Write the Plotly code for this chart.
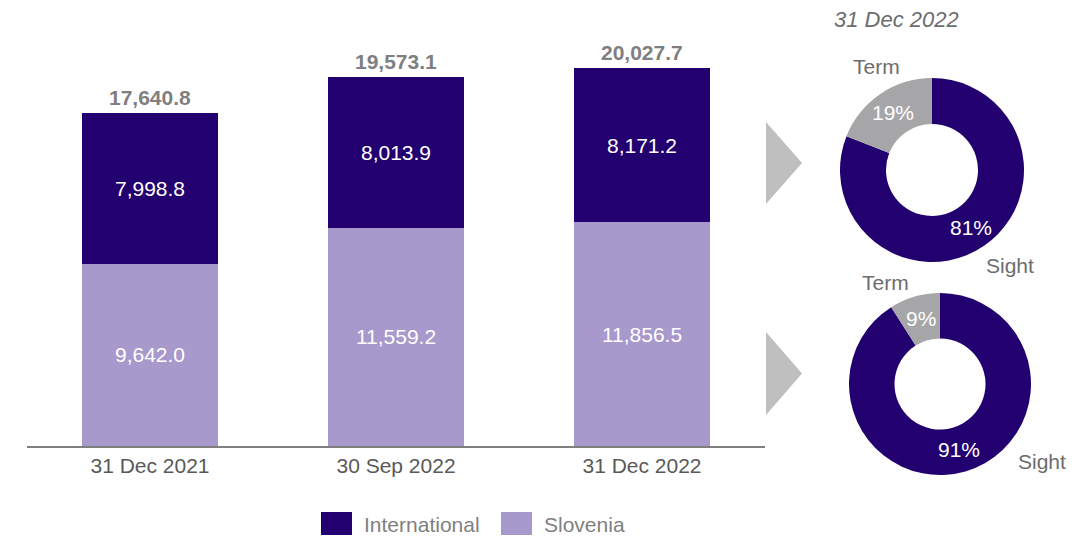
import math

import plotly.graph_objects as go

# Deposit volumes by region (EUR m)
periods = ["31 Dec 2021", "30 Sep 2022", "31 Dec 2022"]
slovenia = [9642.0, 11559.2, 11856.5]
international = [7998.8, 8013.9, 8171.2]
totals = [17640.8, 19573.1, 20027.7]

# Deposit structure at 31 Dec 2022
mix_labels = ["Sight", "Term"]
mix_top = [81, 19]
mix_bottom = [91, 9]

DARK = "#23006f"
LIGHT = "#a799cb"
GREY_SLICE = "#a6a6a8"
GREY_TEXT = "#6d6d6d"
FONT = "Liberation Sans, Arial, sans-serif"

# page body has an 8px margin, so the figure is a bit smaller than the window
OFF = 8
W, H = 1081 - OFF, 537 - OFF


def px(x):
    return (x - OFF) / W


def py(y):
    return 1 - (y - OFF) / H


fig = go.Figure()

fig.add_trace(
    go.Bar(
        x=periods,
        y=slovenia,
        name="Slovenia",
        marker={"color": LIGHT, "line": {"width": 0}},
        text=[f"{v:,.1f}" for v in slovenia],
        textposition="inside",
        insidetextanchor="middle",
        textfont={"color": "white", "size": 21, "family": FONT},
        showlegend=False,
    )
)
fig.add_trace(
    go.Bar(
        x=periods,
        y=international,
        name="International",
        marker={"color": DARK, "line": {"width": 0}},
        text=[f"{v:,.1f}" for v in international],
        textposition="inside",
        insidetextanchor="middle",
        textfont={"color": "white", "size": 21, "family": FONT},
        showlegend=False,
    )
)

annotations = []
# totals above bars
for p, t in zip(periods, totals):
    annotations.append(
        dict(
            x=p,
            y=t,
            xref="x",
            yref="y",
            text=f"<b>{t:,.1f}</b>",
            yanchor="bottom",
            yshift=2,
            showarrow=False,
            font={"color": "#7f7f7f", "size": 21, "family": FONT},
        )
    )

# donuts: (values, centre x, centre y, outer radius) in page pixels
donuts = [(mix_top, 932, 170, 92), (mix_bottom, 940, 384, 91)]
for vals, cx, cy, r in donuts:
    fig.add_trace(
        go.Pie(
            labels=mix_labels,
            values=vals,
            hole=0.5,
            sort=False,
            direction="clockwise",
            rotation=0,
            domain={"x": [px(cx - r), px(cx + r)], "y": [py(cy + r), py(cy - r)]},
            marker={"colors": [DARK, GREY_SLICE], "line": {"width": 0}},
            textinfo="none",
            showlegend=False,
            hoverinfo="label+percent",
        )
    )
    # percentage labels at the middle of each ring segment
    total = sum(vals)
    start = 0.0
    rr = r * 0.75
    for v in vals:
        ang = 2 * math.pi * (start + v / 2) / total
        start += v
        annotations.append(
            dict(
                x=px(cx + rr * math.sin(ang)),
                y=py(cy - rr * math.cos(ang)),
                xref="paper",
                yref="paper",
                text=f"{v}%",
                showarrow=False,
                xanchor="center",
                yanchor="middle",
                font={"color": "white", "size": 21, "family": FONT},
            )
        )

labels = [
    dict(x=px(896), y=py(19), text="<i>31 Dec 2022</i>", height=18, font={"size": 22, "color": GREY_TEXT}),
    dict(x=px(876), y=py(67), text="Term", font={"size": 21, "color": GREY_TEXT}),
    dict(x=px(1010), y=py(265), text="Sight", font={"size": 21, "color": GREY_TEXT}),
    dict(x=px(885), y=py(282), text="Term", font={"size": 21, "color": GREY_TEXT}),
    dict(x=px(1042), y=py(461), text="Sight", font={"size": 21, "color": GREY_TEXT}),
    # legend text
    dict(x=px(362), y=py(524), text="International", xanchor="left", font={"size": 21, "color": "#7f7f7f"}),
    dict(x=px(542), y=py(524), text="Slovenia", xanchor="left", font={"size": 21, "color": "#7f7f7f"}),
]
for a in labels:
    a.setdefault("xanchor", "center")
    a.update(xref="paper", yref="paper", yanchor="middle", showarrow=False)
    a["font"]["family"] = FONT
annotations += labels

shapes = []
# arrows pointing to the donuts
for top, bot in [(122, 204), (332, 415)]:
    mid = (top + bot) / 2
    shapes.append(
        dict(
            type="path",
            xref="paper",
            yref="paper",
            path=f"M{px(766)},{py(top)} L{px(802)},{py(mid)} L{px(766)},{py(bot)} Z",
            fillcolor="#bfbfbf",
            line={"width": 0},
        )
    )
# legend squares
for x0, color in [(321, DARK), (501, LIGHT)]:
    shapes.append(
        dict(
            type="rect",
            xref="paper",
            yref="paper",
            x0=px(x0),
            x1=px(x0 + 31),
            y0=py(535),
            y1=py(512),
            fillcolor=color,
            line={"width": 0},
        )
    )

fig.update_layout(
    width=W,
    height=H,
    margin={"l": 0, "r": 0, "t": 0, "b": 0},
    barmode="stack",
    bargap=0.447,
    plot_bgcolor="white",
    paper_bgcolor="white",
    font={"family": FONT},
    annotations=annotations,
    shapes=shapes,
    xaxis={
        "domain": [px(27), px(765)],
        "showline": True,
        "linecolor": "#7f7f7f",
        "linewidth": 2,
        "ticks": "",
        "tickfont": {"size": 21, "color": "#595959", "family": FONT},
        "automargin": False,
        "showgrid": False,
    },
    yaxis={
        "domain": [py(446), py(40)],
        "range": [0, 21508],
        "showticklabels": False,
        "showgrid": False,
        "zeroline": False,
        "automargin": False,
    },
)

fig.write_html("out.html")
